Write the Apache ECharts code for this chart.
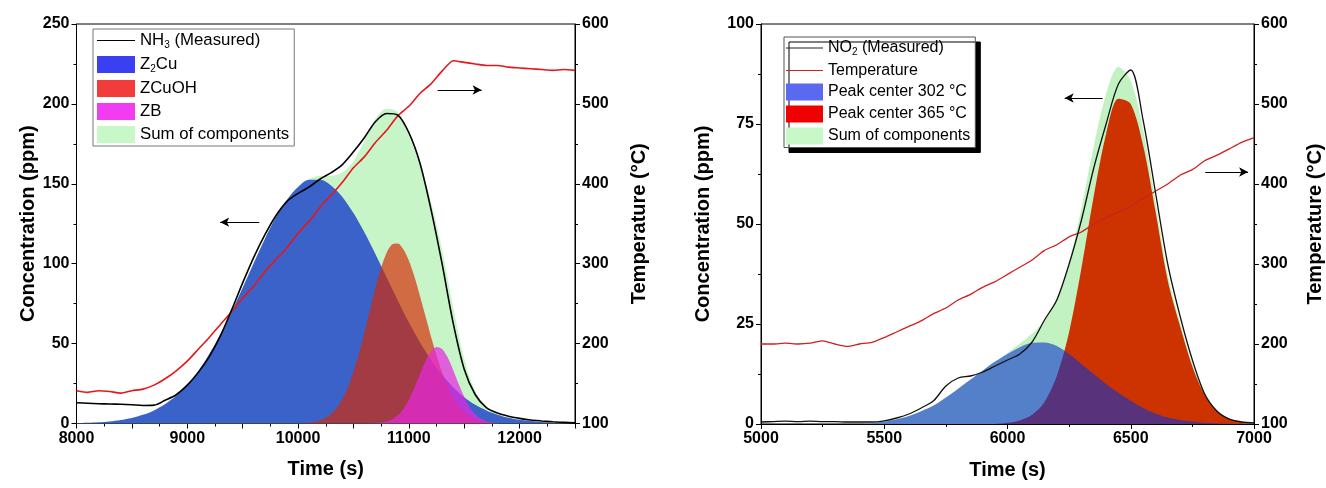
<!DOCTYPE html>
<html><head><meta charset="utf-8">
<script src="https://cdn.jsdelivr.net/npm/echarts@6/dist/echarts.min.js"></script>
<style>html,body{margin:0;padding:0;background:#fff}#c{width:1326px;height:488px}</style>
</head><body><div id="c"></div>
<script>
// ---------------- LEFT PANEL DATA (NH3 TPD) ----------------
const tL = [8000,8100,8200,8300,8400,8500,8600,8700,8800,8900,9000,9100,9200,9300,9400,9500,9600,9700,9800,9900,10000,10100,10200,10300,10400,10500,10600,10700,10800,10900,11000,11100,11200,11300,11400,11500,11600,11700,11800,11900,12000,12100,12200,12300,12400,12500];
const nh3Measured = [13,12.7,12.4,12.2,12,11.7,11.3,11.5,14.5,18,24,32,42,55,71,88,104,118,130,139,144,148,153,157,162,170,179,189,194,193,182,163,134,100,63,34,18,10,6.5,4.5,3.2,2.2,1.6,1.1,0.7,0.5];
const z2cu = [0.25,0.45,0.8,1.3,2.2,3.5,5.4,8.2,12.2,17.4,24.4,33,43.7,56,70,85,100.5,115.5,129,140,148,152.5,152.5,148.8,141.8,131.7,119.5,105.8,91.3,77,63.3,50.8,39.8,30.5,22.7,16.5,11.7,8.2,5.5,3.6,2.3,1.5,0.9,0.5,0.3,0.2];
const sumL = [0.25,0.45,0.8,1.3,2.2,3.5,5.4,8.2,12.2,17.4,24.4,33,43.7,56,70,85,100.5,115.5,129,140,148.2,153,155,155,157,164,177,191,197,195,180,162,139,109,73,40.5,20.3,10.5,6,3.7,2.3,1.5,0.9,0.5,0.3,0.2];
const tempL = [141,139,141,140,138,141,143,148,156,166,178,193,208,224,240,257,272,290,305,320,338,353,371,386,402,420,434,452,467,485,497,513,525,541,554,552,550,548,548,546,545,544,543,542,543,542];
const tZCuOH = [9950,10000,10050,10100,10150,10200,10250,10300,10350,10400,10450,10500,10550,10600,10650,10700,10750,10800,10850,10900,10950,11000,11050,11100,11150,11200,11250,11300,11350,11400,11450,11500,11550,11600,11650,11700,11750,11800,11850,11900];
const zcuoh = [0.06,0.14,0.29,0.58,1.1,2.05,3.6,6.1,9.8,15.3,22.7,32.3,43.9,57.2,71.4,85.3,97.6,106.9,112.1,112.7,109.1,102,92,80,67.2,54.5,42.6,32.2,23.4,16.5,11.2,7.3,4.6,2.8,1.7,0.94,0.5,0.25,0.1,0.05];
const tZB = [10650,10700,10750,10800,10850,10900,10950,11000,11050,11100,11150,11200,11250,11300,11350,11400,11450,11500,11550,11600,11650,11700,11750,11800,11850];
const zb = [0.08,0.2,0.53,1.2,2.6,5.1,9.1,14.9,22.4,30.8,38.9,45,47.9,46.6,41.4,33.5,24.7,16.7,10.2,5.8,2.9,1.4,0.6,0.2,0.08];
const arrowL1 = [[9650,126],[9297,126]];
const arrowL2 = [[11260,208.7],[11657,208.7]];

// ---------------- RIGHT PANEL DATA (NO2) ----------------
const tR = [5000,5050,5100,5150,5200,5250,5300,5350,5400,5450,5500,5550,5600,5650,5700,5750,5800,5850,5900,5950,6000,6050,6100,6150,6200,6250,6300,6350,6400,6450,6500,6550,6600,6650,6700,6750,6800,6850,6900,6950,7000];
const no2Measured = [0.5,0.6,0.7,0.6,0.7,0.6,0.6,0.5,0.5,0.5,0.8,1.5,2.5,4.0,5.8,9.5,11.5,12,13,14.5,16,17.5,20.5,26,31,40,51,64,75,85,88.5,76,58,40,27,16,7.5,3.2,1.2,0.5,0.3];
const peak302 = [0,0,0,0,0,0,0,0,0,0.2,0.6,1.2,2.0,3.2,4.6,6.6,8.8,11.1,13.4,15.6,17.5,19.2,20.3,20.4,19.5,17.5,15.0,12.5,10.0,7.8,5.8,4.0,2.6,1.6,1.0,0.6,0.3,0.15,0.05,0,0];
const peak365 = [0,0,0,0,0,0,0,0,0,0,0,0,0,0,0,0,0,0,0,0,0.3,0.9,2.3,5.5,12,23,39,57,72.5,81.3,80,69.7,53.3,35.9,24.5,14.4,7.3,3.3,1.35,0.5,0.2];
const sumR = [0,0,0,0,0,0,0,0,0,0.2,0.6,1.2,2.0,3.2,4.6,6.6,8.8,11.1,13.4,15.6,17.8,20.1,22.6,25.9,31.5,40.5,54,69.5,82.5,89.3,85.8,73.7,55.9,37.5,25.5,15,7.6,3.45,1.4,0.5,0.2];
const tempR = [200,200,201,200,201,204,200,197,200,202,208,215,222,229,238,245,255,262,271,278,287,296,305,317,324,334,340,350,358,365,372,382,391,400,411,418,429,436,444,452,458];
const arrowR1 = [[6386,81.5],[6232,81.5]];
const arrowR2 = [[6802,63],[6976,63]];

// ---------------- CHART ----------------
const FONT = "'Liberation Sans', Arial, Helvetica, sans-serif";
const pairs = (xs, ys) => xs.map((x, i) => [x, ys[i]]);
const label = {
  nh3: 'NH{s|3} (Measured)', z2cu: 'Z{s|2}Cu', zcuoh: 'ZCuOH', zb: 'ZB', sumL: 'Sum of components',
  no2: 'NO{s|2} (Measured)', tempR: 'Temperature', p302: 'Peak center 302 °C', p365: 'Peak center 365 °C', sumR: 'Sum of components'
};
const lineIcon = 'path://M0,0H40V1.3H0Z';
const tickLabel = {color: '#000', fontFamily: FONT, fontWeight: 'bold', fontSize: 16};
const nameStyle = {color: '#000', fontFamily: FONT, fontWeight: 'bold', fontSize: 20};
const axLine = {show: true, lineStyle: {color: '#000', width: 1}};
function xAx(grid, min, max, step) {
  return {gridIndex: grid, type: 'value', min: min, max: max, interval: step,
    name: 'Time (s)', nameLocation: 'middle', nameGap: 36, nameTextStyle: nameStyle,
    axisLine: axLine, axisTick: {show: true, length: 5, lineStyle: {color: '#000'}},
    minorTick: {show: true, splitNumber: 2, length: 3, lineStyle: {color: '#000'}},
    splitLine: {show: false},
    axisLabel: Object.assign({margin: 7, showMaxLabel: grid === 1,
      formatter: v => (grid === 0 && v % 1000 !== 0) ? '' : String(v)}, tickLabel)};
}
function yAx(grid, pos, min, max, step, name, gap) {
  return {gridIndex: grid, type: 'value', position: pos, min: min, max: max, interval: step,
    name: name, nameLocation: 'middle', nameGap: gap, nameTextStyle: nameStyle,
    axisLine: axLine, axisTick: {show: true, length: 5, lineStyle: {color: '#000'}},
    minorTick: {show: true, splitNumber: 2, length: 3, lineStyle: {color: '#000'}},
    splitLine: {show: false}, axisLabel: Object.assign({margin: 7}, tickLabel)};
}
function area(name, x, y, xi, yi, color, opacity, z) {
  return {name: name, type: 'line', xAxisIndex: xi, yAxisIndex: yi, data: pairs(x, y), smooth: 0.3,
    symbol: 'none', lineStyle: {width: 0}, itemStyle: {color: color},
    areaStyle: {color: color, opacity: opacity}, z: z, silent: true};
}
function arrow(coords) {
  return [{coord: coords[0]}, {coord: coords[1]}];
}
function legendText(size) {
  return {color: '#000', fontFamily: FONT, fontSize: size,
    rich: {s: {fontSize: 10, fontFamily: FONT, padding: [9, 0, 0, 0]}}};
}

const option = {
  animation: false,
  backgroundColor: '#fff',
  grid: [
    {left: 76.5, right: 751, top: 24, bottom: 64.5, show: true, borderColor: '#000', borderWidth: 1, backgroundColor: 'transparent'},
    {left: 761, right: 70, top: 24, bottom: 64, show: true, borderColor: '#000', borderWidth: 1, backgroundColor: 'transparent'}
  ],
  xAxis: [xAx(0, 8000, 12500, 500), xAx(1, 5000, 7000, 500)],
  yAxis: [
    yAx(0, 'left', 0, 250, 50, 'Concentration (ppm)', 38),
    yAx(0, 'right', 100, 600, 100, 'Temperature (°C)', 54),
    yAx(1, 'left', 0, 100, 25, 'Concentration (ppm)', 48),
    yAx(1, 'right', 100, 600, 100, 'Temperature (°C)', 51)
  ],
  legend: [
    {left: 93, top: 29, orient: 'vertical', itemWidth: 38, itemHeight: 17, itemGap: 6,
      padding: [3, 5, 3, 4], backgroundColor: '#fff', borderColor: '#777', borderWidth: 1, borderRadius: 0,
      textStyle: legendText(16.8), selectedMode: false,
      formatter: n => label[n],
      data: [
        {name: 'nh3', icon: lineIcon, itemStyle: {color: '#000'}},
        {name: 'z2cu', icon: 'rect', itemStyle: {color: '#3b3ff2'}},
        {name: 'zcuoh', icon: 'rect', itemStyle: {color: '#f23c3c'}},
        {name: 'zb', icon: 'rect', itemStyle: {color: '#f23cf2'}},
        {name: 'sumL', icon: 'rect', itemStyle: {color: '#c8f7c8'}}
      ]},
    {left: 784, top: 37, orient: 'vertical', itemWidth: 37, itemHeight: 17, itemGap: 5,
      padding: [3, 5, 3, 2], backgroundColor: '#fff', borderColor: '#555', borderWidth: 1, borderRadius: 0,
      shadowColor: '#000', shadowBlur: 0, shadowOffsetX: 5, shadowOffsetY: 5,
      textStyle: legendText(16), selectedMode: false,
      formatter: n => label[n],
      data: [
        {name: 'no2', icon: lineIcon, itemStyle: {color: '#222'}},
        {name: 'tempR', icon: lineIcon, itemStyle: {color: '#d02020'}},
        {name: 'p302', icon: 'rect', itemStyle: {color: '#5a6af0'}},
        {name: 'p365', icon: 'rect', itemStyle: {color: '#f00000'}},
        {name: 'sumR', icon: 'rect', itemStyle: {color: '#c8f7c8'}}
      ]}
  ],
  series: [
    // left panel
    area('sumL', tL, sumL, 0, 0, '#c8f5c8', 1, 1),
    area('z2cu', tL, z2cu, 0, 0, '#3a62c8', 1, 2),
    area('zcuoh', tZCuOH, zcuoh, 0, 0, 'rgb(212,42,5)', 0.68, 3),
    area('zb', tZB, zb, 0, 0, 'rgb(232,40,225)', 0.72, 4),
    {name: 'tempL', type: 'line', xAxisIndex: 0, yAxisIndex: 1, data: pairs(tL, tempL), smooth: 0.2,
      symbol: 'none', lineStyle: {color: '#e8161b', width: 1.6}, z: 5, silent: true},
    {name: 'nh3', type: 'line', xAxisIndex: 0, yAxisIndex: 0, data: pairs(tL, nh3Measured), smooth: 0.3,
      symbol: 'none', lineStyle: {color: '#000', width: 1.6}, itemStyle: {color: '#000'}, z: 6, silent: true,
      markLine: {silent: true, symbol: ['none', 'arrow'], symbolSize: [7, 9], label: {show: false},
        lineStyle: {color: '#000', width: 1, type: 'solid'}, data: [arrow(arrowL1), arrow(arrowL2)]}},
    // right panel
    area('sumR', tR, sumR, 1, 2, '#c2f2c2', 1, 1),
    area('p365', tR, peak365, 1, 2, '#cc3300', 1, 2),
    area('p302', tR, peak302, 1, 2, 'rgb(10,50,205)', 0.6, 3),
    {name: 'tempR', type: 'line', xAxisIndex: 1, yAxisIndex: 3, data: pairs(tR, tempR), smooth: 0.2,
      symbol: 'none', lineStyle: {color: '#d02020', width: 1.3}, itemStyle: {color: '#d02020'}, z: 5, silent: true},
    {name: 'no2', type: 'line', xAxisIndex: 1, yAxisIndex: 2, data: pairs(tR, no2Measured), smooth: 0.3,
      symbol: 'none', lineStyle: {color: '#111', width: 1.3}, itemStyle: {color: '#111'}, z: 6, silent: true,
      markLine: {silent: true, symbol: ['none', 'arrow'], symbolSize: [7, 9], label: {show: false},
        lineStyle: {color: '#000', width: 1, type: 'solid'}, data: [arrow(arrowR1), arrow(arrowR2)]}}
  ]
};
const chart = echarts.init(document.getElementById('c'), null, {renderer: 'canvas'});
chart.setOption(option);
</script></body></html>
